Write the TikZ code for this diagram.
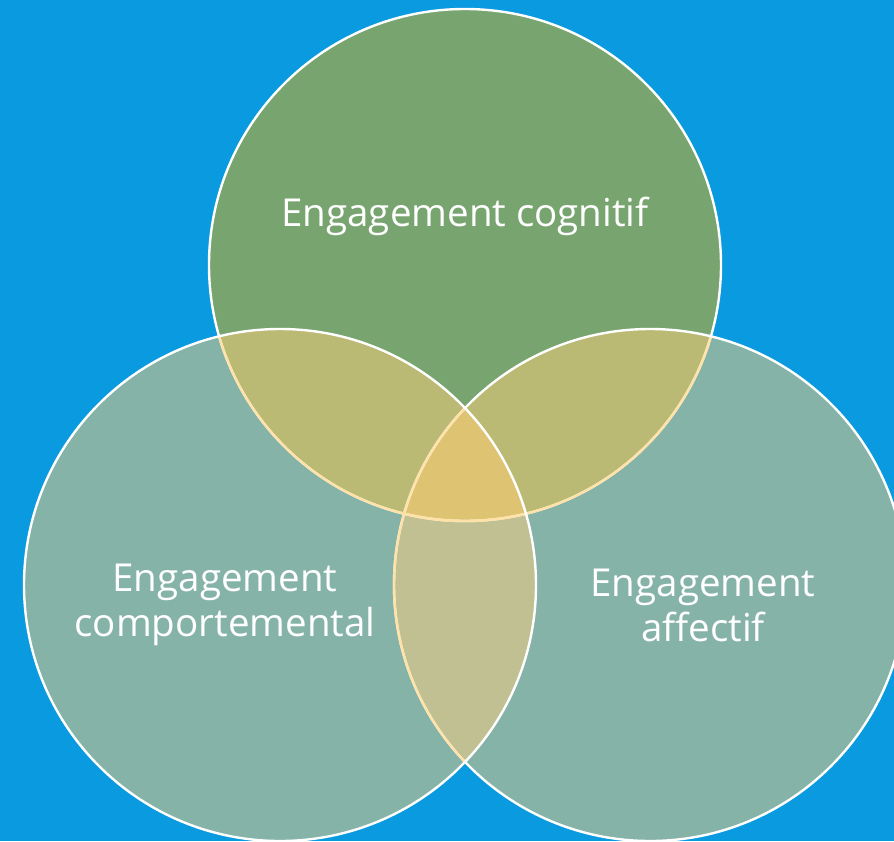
\documentclass[tikz,border=0pt]{standalone}
\usepackage{fontspec}
\setmainfont{Open Sans}
\definecolor{bgblue}{RGB}{10,154,223}
\definecolor{cogfill}{RGB}{120,165,111}
\definecolor{sidefill}{RGB}{134,179,168}
\definecolor{pairfill}{RGB}{187,186,116}
\definecolor{lowfill}{RGB}{193,192,146}
\definecolor{midfill}{RGB}{222,195,115}
\definecolor{paleline}{RGB}{255,226,168}

\begin{document}
\begin{tikzpicture}[x=1pt,y=-1pt,
  label/.style={text=white,font=\fontsize{38.5}{45}\selectfont,align=center,inner sep=0pt},
  rim/.style={draw=white,line width=2.4pt},
  hidrim/.style={draw=paleline,line width=2.4pt}]
  \def\rad{256pt}
  \useasboundingbox (0,0) rectangle (894,841);
  \clip (0,0) rectangle (894,841);
  \fill[bgblue] (0,0) rectangle (894,841);
  \coordinate (ctop) at (465,265);
  \coordinate (cleft) at (280,585);
  \coordinate (cright) at (650,585);
  % circles
  \fill[cogfill] (ctop) circle (\rad);
  \fill[sidefill] (cleft) circle (\rad);
  \fill[sidefill] (cright) circle (\rad);
  % overlaps
  \begin{scope}
    \clip (cleft) circle (\rad);
    \fill[lowfill] (cright) circle (\rad);
  \end{scope}
  \begin{scope}
    \clip (ctop) circle (\rad);
    \fill[pairfill] (cleft) circle (\rad);
    \fill[pairfill] (cright) circle (\rad);
    \clip (cleft) circle (\rad);
    \fill[midfill] (cright) circle (\rad);
  \end{scope}
  % outlines
  \draw[rim] (ctop) circle (\rad);
  \begin{scope}
    \clip (cright) circle (\rad);
    \draw[hidrim] (ctop) circle (\rad);
  \end{scope}
  \draw[rim] (cright) circle (\rad);
  \begin{scope}
    \clip (cleft) circle (\rad);
    \draw[hidrim] (ctop) circle (\rad);
    \draw[hidrim] (cright) circle (\rad);
  \end{scope}
  \draw[rim] (cleft) circle (\rad);
  % labels
  \node[label] (cog) at (465,216) {Engagement cognitif};
  \node[label] (comp) at (225,605) {Engagement\\comportemental};
  \node[label] (aff) at (703,605) {Engagement\\affectif};
\end{tikzpicture}
\end{document}
